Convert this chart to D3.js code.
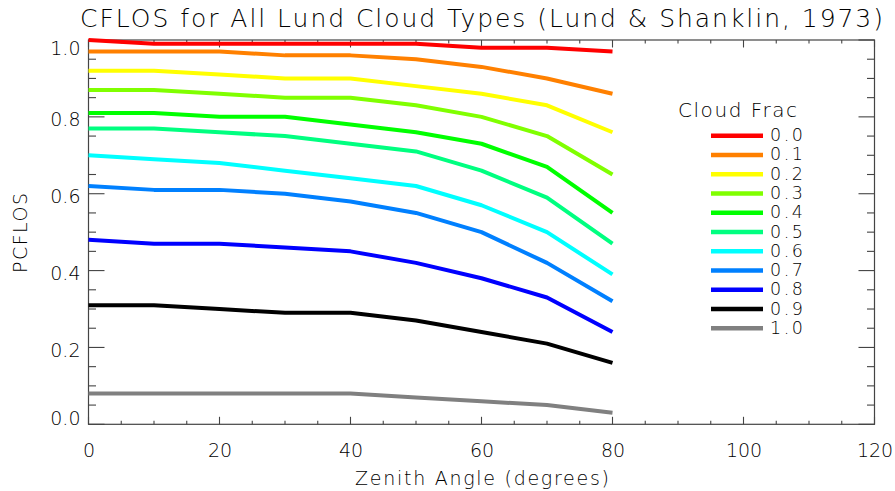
<!DOCTYPE html>
<html>
<head>
<meta charset="utf-8">
<script src="https://cdn.jsdelivr.net/npm/d3@7"></script>
<style>
  html, body { margin: 0; padding: 0; background: #fff; }
  svg { display: block; }
  text { font-family: "DejaVu Sans", sans-serif; font-weight: 200; fill: #000; }
</style>
</head>
<body>
<svg id="chart" width="895" height="491"></svg>
<script>
// ---- data ----
const zenith = [0, 10, 20, 30, 40, 50, 60, 70, 80];
const cf00 = [1.00, 0.99, 0.99, 0.99, 0.99, 0.99, 0.98, 0.98, 0.97];
const cf01 = [0.97, 0.97, 0.97, 0.96, 0.96, 0.95, 0.93, 0.90, 0.86];
const cf02 = [0.92, 0.92, 0.91, 0.90, 0.90, 0.88, 0.86, 0.83, 0.76];
const cf03 = [0.87, 0.87, 0.86, 0.85, 0.85, 0.83, 0.80, 0.75, 0.65];
const cf04 = [0.81, 0.81, 0.80, 0.80, 0.78, 0.76, 0.73, 0.67, 0.55];
const cf05 = [0.77, 0.77, 0.76, 0.75, 0.73, 0.71, 0.66, 0.59, 0.47];
const cf06 = [0.70, 0.69, 0.68, 0.66, 0.64, 0.62, 0.57, 0.50, 0.39];
const cf07 = [0.62, 0.61, 0.61, 0.60, 0.58, 0.55, 0.50, 0.42, 0.32];
const cf08 = [0.48, 0.47, 0.47, 0.46, 0.45, 0.42, 0.38, 0.33, 0.24];
const cf09 = [0.31, 0.31, 0.30, 0.29, 0.29, 0.27, 0.24, 0.21, 0.16];
const cf10 = [0.08, 0.08, 0.08, 0.08, 0.08, 0.07, 0.06, 0.05, 0.03];
const cloudFracLabels = ["0.0", "0.1", "0.2", "0.3", "0.4", "0.5", "0.6", "0.7", "0.8", "0.9", "1.0"];
const seriesValues = [cf00, cf01, cf02, cf03, cf04, cf05, cf06, cf07, cf08, cf09, cf10];
const seriesColors = ["#ff0000", "#ff8000", "#ffff00", "#80ff00", "#00ff00", "#00ff80",
                      "#00ffff", "#0080ff", "#0000ff", "#000000", "#808080"];
const xTickValues = [0, 20, 40, 60, 80, 100, 120];
const yTickValues = [0.0, 0.2, 0.4, 0.6, 0.8, 1.0];

// ---- layout ----
const svg = d3.select("#chart");
const L = 88.5, R = 874.5, T = 40, B = 424.3;
const x = d3.scaleLinear().domain([0, 120]).range([L, R]);
const y = d3.scaleLinear().domain([0, 1.0]).range([B, T]);
const axisColor = "#444";

// frame
const g = svg.append("g");
g.append("rect").attr("x", L).attr("y", T).attr("width", R - L).attr("height", B - T)
  .attr("fill", "none").attr("stroke", axisColor).attr("stroke-width", 1.2);

// x ticks (bottom & top)
const xMinor = d3.range(0, 121, 5);
xMinor.forEach(v => {
  const major = v % 20 === 0;
  const len = major ? 7.5 : 3.5;
  g.append("line").attr("x1", x(v)).attr("x2", x(v)).attr("y1", B).attr("y2", B - len)
    .attr("stroke", axisColor).attr("stroke-width", 1.1);
  g.append("line").attr("x1", x(v)).attr("x2", x(v)).attr("y1", T).attr("y2", T + len)
    .attr("stroke", axisColor).attr("stroke-width", 1.1);
});
// y ticks (left & right)
const yMinor = d3.range(0, 21).map(i => i * 0.05);
yMinor.forEach((v, i) => {
  const major = i % 4 === 0;
  const len = major ? 16 : 7.5;
  g.append("line").attr("x1", L).attr("x2", L + len).attr("y1", y(v)).attr("y2", y(v))
    .attr("stroke", axisColor).attr("stroke-width", 1.1);
  g.append("line").attr("x1", R).attr("x2", R - len).attr("y1", y(v)).attr("y2", y(v))
    .attr("stroke", axisColor).attr("stroke-width", 1.1);
});

// tick labels
const xAxis = d3.axisBottom(x).tickValues(xTickValues).tickSize(0).tickPadding(0)
  .tickFormat(d3.format("d"));
const xg = svg.append("g").attr("transform", `translate(0,${B})`).call(xAxis);
xg.select(".domain").remove();
xg.selectAll("text").attr("y", 33).attr("dy", null)
  .style("font-family", '"DejaVu Sans", sans-serif').style("font-weight", "200")
  .style("font-size", "19px").attr("fill", "#000");

const yAxis = d3.axisLeft(y).tickValues(yTickValues).tickSize(0).tickPadding(0)
  .tickFormat(d3.format(".1f"));
const yg = svg.append("g").attr("transform", `translate(${L - 8},0)`).call(yAxis);
yg.select(".domain").remove();
yg.selectAll("text").attr("x", 0).attr("dy", null)
  .attr("y", d => d === 0 ? 0.5 : (d === 1 ? 14 : 9))
  .style("font-family", '"DejaVu Sans", sans-serif').style("font-weight", "200")
  .style("font-size", "19px").attr("fill", "#000");

// titles
svg.append("text").attr("x", 80).attr("y", 27).attr("font-size", 25)
  .attr("textLength", 803).attr("lengthAdjust", "spacing")
  .text("CFLOS for All Lund Cloud Types (Lund & Shanklin, 1973)");
svg.append("text").attr("x", 355).attr("y", 485).attr("font-size", 19)
  .attr("textLength", 254).attr("lengthAdjust", "spacing")
  .text("Zenith Angle (degrees)");
svg.append("text").attr("transform", "translate(27,273) rotate(-90)").attr("font-size", 19)
  .attr("textLength", 80).attr("lengthAdjust", "spacing")
  .text("PCFLOS");

// series lines
const line = d3.line().x((d, i) => x(zenith[i])).y(d => y(d));
svg.append("g").selectAll("path").data(seriesValues).join("path")
  .attr("d", d => line(d))
  .attr("fill", "none")
  .attr("stroke", (d, i) => seriesColors[i])
  .attr("stroke-width", 4)
  .attr("stroke-linejoin", "round")
  .attr("stroke-linecap", "butt");

// legend
const lg = svg.append("g");
lg.append("text").attr("x", 678).attr("y", 117).attr("font-size", 20)
  .attr("textLength", 119).attr("lengthAdjust", "spacing").text("Cloud Frac");
const legY = i => 135.7 + i * 19.26;
cloudFracLabels.forEach((lab, i) => {
  lg.append("line").attr("x1", 711).attr("x2", 763).attr("y1", legY(i)).attr("y2", legY(i))
    .attr("stroke", seriesColors[i]).attr("stroke-width", 4.5);
  lg.append("text").attr("x", 770).attr("y", legY(i) + 5.5).attr("font-size", 17.5)
    .attr("textLength", 33).attr("lengthAdjust", "spacing").text(lab);
});
</script>
</body>
</html>
